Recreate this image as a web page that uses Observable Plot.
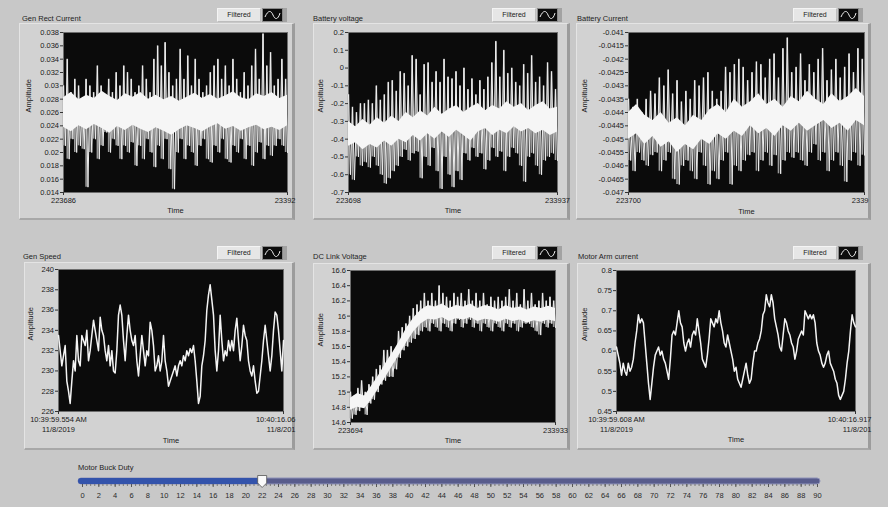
<!DOCTYPE html>
<html><head><meta charset="utf-8">
<script src="https://cdn.jsdelivr.net/npm/d3@7"></script>
<script src="https://cdn.jsdelivr.net/npm/@observablehq/plot@0.6"></script>
<style>
html,body{margin:0;padding:0;background:#c8c8c8;}
#root{position:relative;width:888px;height:507px;overflow:hidden;background:#c8c8c8;font-family:"Liberation Sans",Arial,sans-serif;}
.frame{position:absolute;background:#d2d2d2;box-sizing:border-box;border-top:1px solid #e4e4e4;border-left:1px solid #e4e4e4;border-right:3px solid #9c9c9c;border-bottom:2px solid #a8a8a8;}
.title{position:absolute;font-size:7.5px;color:#1e1e1e;white-space:nowrap;line-height:9px;}
.legend{position:absolute;height:14px;display:flex;box-sizing:border-box;border-right:4px solid #a2a2a2;}
.legend .lab{width:44px;height:14px;box-sizing:border-box;background:#e6e6e6;border:1px solid #f4f4f4;border-right-color:#bdbdbd;border-bottom-color:#bdbdbd;font-size:7px;line-height:12px;text-align:center;color:#222;}
.legend .ico{width:21px;height:14px;box-sizing:border-box;background:#0c0c0c;border:1px solid #8a8a8a;margin-left:1px;}
</style>
</head><body><div id="root"></div>
<script>
// ---------- data ----------
const genRectHi = [0.030,0.034,0.029,0.031,0.030,0.028,0.031,0.030,0.029,0.033,0.030,0.028,0.031,0.029,0.032,0.030,0.033,0.032,0.031,0.029,0.030,0.033,0.031,0.029,0.034,0.036,0.033,0.0365,0.032,0.030,0.031,0.0355,0.031,0.0345,0.030,0.034,0.031,0.029,0.030,0.032,0.033,0.034,0.031,0.033,0.030,0.034,0.031,0.029,0.032,0.030,0.033,0.0355,0.031,0.0378,0.033,0.035,0.030,0.031,0.034,0.031];
const genRectLo = [0.021,0.019,0.022,0.020,0.021,0.0205,0.0148,0.020,0.022,0.019,0.021,0.023,0.020,0.022,0.021,0.019,0.021,0.020,0.0215,0.018,0.021,0.019,0.022,0.020,0.0178,0.021,0.019,0.022,0.0175,0.0145,0.020,0.022,0.019,0.021,0.020,0.018,0.021,0.022,0.019,0.0185,0.021,0.020,0.022,0.019,0.0185,0.021,0.020,0.022,0.019,0.021,0.018,0.020,0.0215,0.019,0.021,0.0195,0.021,0.022,0.021,0.020];
const genRectCoreHi = [0.0282,0.0290,0.0279,0.0286,0.0281,0.0292,0.0284,0.0278,0.0288,0.0283,0.0290,0.0280,0.0286,0.0279,0.0284,0.0277,0.0283,0.0289,0.0281,0.0287,0.0280,0.0285,0.0291,0.0282,0.0279,0.0288,0.0284,0.0290,0.0281,0.0286];
const genRectCoreLo = [0.0238,0.0231,0.0240,0.0234,0.0242,0.0236,0.0229,0.0239,0.0233,0.0241,0.0235,0.0230,0.0237,0.0232,0.0226,0.0234,0.0240,0.0236,0.0231,0.0238,0.0243,0.0235,0.0239,0.0232,0.0237,0.0241,0.0234,0.0238,0.0233,0.0240];
const genRectTicks = [0.014,0.016,0.018,0.02,0.022,0.024,0.026,0.028,0.03,0.032,0.034,0.036,0.038];

const batVHi = [-0.15,-0.22,-0.25,-0.2,-0.2,-0.18,-0.2,-0.1,-0.18,-0.15,-0.08,-0.07,-0.13,-0.02,-0.03,-0.1,0.07,0.05,-0.15,0.02,0.03,-0.08,-0.02,-0.08,0.05,-0.05,-0.06,-0.02,-0.1,0.0,-0.12,-0.06,-0.15,-0.07,-0.12,-0.05,0.03,0.15,-0.05,0.1,-0.03,0.0,-0.08,-0.1,0.02,-0.03,0.07,-0.08,-0.05,-0.1,0.03,-0.02,-0.12];
const batVLo = [-0.6,-0.63,-0.5,-0.55,-0.53,-0.56,-0.5,-0.55,-0.6,-0.65,-0.62,-0.58,-0.55,-0.5,-0.46,-0.52,-0.48,-0.47,-0.62,-0.5,-0.55,-0.45,-0.58,-0.68,-0.5,-0.6,-0.67,-0.58,-0.63,-0.48,-0.52,-0.45,-0.5,-0.48,-0.57,-0.52,-0.45,-0.5,-0.47,-0.58,-0.5,-0.45,-0.48,-0.55,-0.64,-0.5,-0.48,-0.55,-0.6,-0.52,-0.5,-0.48,-0.52];
const batVCoreHi = [-0.30,-0.33,-0.29,-0.32,-0.28,-0.31,-0.27,-0.30,-0.25,-0.28,-0.24,-0.27,-0.22,-0.26,-0.23,-0.21,-0.25,-0.22,-0.20,-0.24,-0.21,-0.23,-0.19,-0.22,-0.20,-0.24,-0.21,-0.19,-0.23,-0.22];
const batVCoreLo = [-0.44,-0.42,-0.46,-0.43,-0.45,-0.41,-0.44,-0.40,-0.42,-0.38,-0.41,-0.37,-0.40,-0.36,-0.39,-0.35,-0.38,-0.41,-0.36,-0.34,-0.38,-0.35,-0.37,-0.33,-0.36,-0.34,-0.37,-0.35,-0.38,-0.36];
const batVTicks = [-0.7,-0.6,-0.5,-0.4,-0.3,-0.2,-0.1,0,0.1,0.2];

const batIHi = [-0.0435,-0.0438,-0.0435,-0.044,-0.0435,-0.0432,-0.0433,-0.0427,-0.043,-0.0424,-0.0433,-0.0428,-0.0436,-0.0432,-0.0435,-0.0428,-0.043,-0.0427,-0.0425,-0.0432,-0.0435,-0.0432,-0.0423,-0.0425,-0.0422,-0.042,-0.0423,-0.0428,-0.0425,-0.0421,-0.0422,-0.0427,-0.042,-0.0418,-0.0427,-0.0416,-0.0412,-0.0425,-0.0423,-0.0418,-0.0428,-0.0422,-0.0425,-0.042,-0.0416,-0.0428,-0.0424,-0.042,-0.0427,-0.0423,-0.0418,-0.0425,-0.0416,-0.042];
const batILo = [-0.0458,-0.0462,-0.0455,-0.0458,-0.046,-0.0456,-0.0455,-0.0462,-0.0458,-0.0455,-0.0465,-0.0467,-0.046,-0.0458,-0.0462,-0.0465,-0.0455,-0.046,-0.0467,-0.0462,-0.0465,-0.0458,-0.0455,-0.0467,-0.046,-0.0462,-0.0458,-0.0456,-0.0455,-0.0462,-0.0458,-0.0455,-0.046,-0.0456,-0.0463,-0.0458,-0.0455,-0.0457,-0.0455,-0.0458,-0.046,-0.0455,-0.0452,-0.0458,-0.0455,-0.0462,-0.0458,-0.0455,-0.046,-0.0466,-0.0458,-0.0455,-0.046,-0.0456];
const batICoreHi = [-0.0440,-0.0437,-0.0441,-0.0443,-0.0440,-0.0444,-0.0442,-0.0445,-0.0441,-0.0443,-0.0439,-0.0437,-0.0440,-0.0435,-0.0438,-0.0436,-0.0433,-0.0437,-0.0435,-0.0438,-0.0434,-0.0436,-0.0432,-0.0435,-0.0437,-0.0433,-0.0436,-0.0434,-0.0431,-0.0434];
const batICoreLo = [-0.0450,-0.0448,-0.0452,-0.0449,-0.0453,-0.0451,-0.0455,-0.0452,-0.0454,-0.0450,-0.0452,-0.0448,-0.0450,-0.0447,-0.0449,-0.0445,-0.0448,-0.0446,-0.0449,-0.0445,-0.0447,-0.0444,-0.0447,-0.0445,-0.0443,-0.0446,-0.0444,-0.0447,-0.0443,-0.0445];
const batITicks = [-0.047,-0.0465,-0.046,-0.0455,-0.045,-0.0445,-0.044,-0.0435,-0.043,-0.0425,-0.042,-0.0415,-0.041];

const genSpeed = [233.5,232,230.5,231.5,232.5,229,228,226.8,229,231,230,233.5,231,230.5,233.5,233,232.5,234,231,232,233.5,235,234,233,232,235.3,234,233.5,232,231,232.5,230.5,232,230,229.8,232,235.5,236.5,235.5,233,231,233.5,235.5,234,233,232.5,233.5,231,229.5,231.5,233.5,232,230.5,232,231.5,234.8,234,232.5,230,230.5,231.5,230,231,233.5,231,230,228.5,229,229.5,230,230.5,229.5,230.5,231,230.5,231.5,231,232,231.5,232.2,231.8,232.5,231,229,226.8,227.5,230.5,231.5,233,236,237.5,238.5,237,235.5,232,230,232,235.5,233,231,232,231.5,233,232,233,232,234,235.2,233,231,232.5,234.5,233.5,233,231,230,229.5,230.5,229,227.8,228,229.5,231,233,234.5,233,231.5,230,231.5,234,235.8,235.5,234,232,230,233];
const genSpeedTicks = [226,228,230,232,234,236,238,240];

const dcHi = [15.0,14.95,15.05,15.15,15.0,15.1,15.2,15.3,15.35,15.55,15.55,15.6,15.55,15.8,15.85,15.9,16.0,16.1,16.15,16.2,16.3,16.2,16.3,16.2,16.4,16.3,16.25,16.2,16.3,16.25,16.3,16.2,16.35,16.2,16.3,16.2,16.3,16.15,16.25,16.2,16.25,16.2,16.25,16.35,16.2,16.3,16.15,16.35,16.2,16.3,16.15,16.2,16.3,16.2,16.25,16.2];
const dcLo = [14.65,14.7,14.75,14.8,14.7,14.85,14.9,15.0,15.1,15.15,15.2,15.2,15.3,15.45,15.55,15.6,15.65,15.7,15.75,15.8,15.85,15.8,15.9,15.85,15.8,15.9,15.85,15.8,15.9,15.95,15.85,15.9,15.95,15.85,15.9,15.8,15.9,15.85,15.8,15.9,15.85,15.8,15.9,15.85,15.9,15.8,15.85,15.9,15.9,15.85,15.8,15.75,15.9,15.85,15.9,15.85];
const dcCoreHi = [14.92,14.98,14.95,15.08,15.22,15.38,15.52,15.68,15.85,15.98,16.08,16.14,16.12,16.16,16.1,16.14,16.12,16.16,16.1,16.14,16.12,16.08,16.14,16.1,16.12,16.08,16.12,16.1,16.13,16.1];
const dcCoreLo = [14.76,14.8,14.78,14.9,15.05,15.2,15.35,15.5,15.66,15.8,15.9,15.96,15.95,15.98,15.93,15.97,15.95,15.98,15.93,15.96,15.95,15.92,15.96,15.93,15.95,15.91,15.94,15.92,15.95,15.93];
const dcTicks = [14.6,14.8,15,15.2,15.4,15.6,15.8,16,16.2,16.4,16.6];

const motorArm = [0.61,0.59,0.57,0.54,0.57,0.55,0.54,0.57,0.55,0.56,0.58,0.62,0.65,0.69,0.67,0.68,0.67,0.62,0.57,0.52,0.48,0.52,0.56,0.59,0.6,0.61,0.59,0.6,0.58,0.57,0.55,0.53,0.58,0.64,0.65,0.64,0.67,0.7,0.67,0.66,0.62,0.6,0.62,0.63,0.61,0.64,0.65,0.64,0.68,0.65,0.62,0.58,0.57,0.56,0.59,0.63,0.68,0.67,0.66,0.68,0.67,0.7,0.67,0.65,0.62,0.61,0.64,0.62,0.6,0.58,0.55,0.56,0.53,0.52,0.51,0.53,0.55,0.57,0.54,0.52,0.53,0.57,0.6,0.6,0.62,0.63,0.65,0.69,0.7,0.74,0.72,0.71,0.74,0.72,0.68,0.66,0.64,0.61,0.6,0.64,0.68,0.67,0.65,0.64,0.62,0.61,0.58,0.6,0.63,0.64,0.65,0.64,0.7,0.69,0.68,0.69,0.68,0.69,0.67,0.62,0.6,0.59,0.57,0.56,0.57,0.59,0.6,0.57,0.56,0.55,0.53,0.52,0.49,0.48,0.49,0.5,0.53,0.57,0.6,0.65,0.69,0.67,0.66];
const motorArmTicks = [0.45,0.5,0.55,0.6,0.65,0.7,0.75,0.8];

const titles = ["Gen Rect Current","Battery voltage","Battery Current","Gen Speed","DC Link Voltage","Motor Arm current"];
const xStartLabels = ["223686","223698","223700","10:39:59.554 AM\n11/8/2019","223694","10:39:59.608 AM\n11/8/2019"];
const xEndLabels = ["23392","233937","2339","10:40:16.06\n11/8/201","233933","10:40:16.917\n11/8/201"];
const legendText = "Filtered";
const sliderLabel = "Motor Buck Duty";
const sliderDomain = [0, 90];
const sliderTicks = [0,2,4,6,8,10,12,14,16,18,20,22,24,26,28,30,32,34,36,38,40,42,44,46,48,50,52,54,56,58,60,62,64,66,68,70,72,74,76,78,80,82,84,86,88,90];
const sliderValue = 22;

// ---------- layout ----------
const root = document.getElementById("root");
const fmt = d => String(+d.toFixed(6));
const FONT = '"Liberation Sans", Arial, sans-serif';

const panels = [
  {kind:"noise", hi:genRectHi, lo:genRectLo, cHi:genRectCoreHi, cLo:genRectCoreLo, ticks:genRectTicks,
   frame:[19,23,295,220], plot:[63,32,287,192], yLab:9, timeDy:20, endDx:8, endAnchor:"end", legend:[217,8], title:[22,14]},
  {kind:"noise", hi:batVHi, lo:batVLo, cHi:batVCoreHi, cLo:batVCoreLo, ticks:batVTicks,
   frame:[313,23,570,220], plot:[348,32,557,192], yLab:7, timeDy:20, endDx:0, endAnchor:"middle", legend:[492,8], title:[313,14]},
  {kind:"noise", hi:batIHi, lo:batILo, cHi:batICoreHi, cLo:batICoreLo, ticks:batITicks,
   frame:[576,23,871,220], plot:[628,32,864,192], yLab:8, timeDy:21, endDx:4, endAnchor:"end", legend:[793,8], title:[577,14]},
  {kind:"line", vals:genSpeed, ticks:genSpeedTicks,
   frame:[24,262,295,450], plot:[58,269,283,411], yLab:6, timeDy:31, endDx:12, endAnchor:"end", legend:[217,246], title:[23,252]},
  {kind:"noise", hi:dcHi, lo:dcLo, cHi:dcCoreHi, cLo:dcCoreLo, ticks:dcTicks,
   frame:[313,263,570,450], plot:[350,270,555,422], yLab:7, timeDy:20, endDx:0, endAnchor:"middle", legend:[492,246], title:[313,252]},
  {kind:"line", vals:motorArm, ticks:motorArmTicks,
   frame:[577,263,871,450], plot:[616,270,855,411], yLab:7, timeDy:30, endDx:16, endAnchor:"end", legend:[793,246], title:[578,252]}
];

function addDiv(cls, css, html){
  const d = document.createElement("div");
  d.className = cls; Object.assign(d.style, css); if (html!=null) d.innerHTML = html;
  root.appendChild(d); return d;
}

panels.forEach((p, k) => {
  const [x0,y0,x1,y1] = p.frame, [px0,py0,px1,py1] = p.plot;
  addDiv("frame", {left:x0+"px", top:y0+"px", width:(x1-x0)+"px", height:(y1-y0)+"px"});
  addDiv("title", {left:p.title[0]+"px", top:p.title[1]+"px"}, titles[k]);
  addDiv("legend", {left:p.legend[0]+"px", top:p.legend[1]+"px"},
    `<div class="lab">${legendText}</div><div class="ico"><svg width="19" height="12" style="display:block"><path d="M2,8 C5,1 8,1 10,6 S15,11 17,4" stroke="#eee" stroke-width="1" fill="none"/></svg></div>`);

  const W = x1-x0, H = y1-y0;
  const mL = px0-x0, mT = py0-y0, mR = x1-px1, mB = y1-py1;
  let xMax, dataMarks;
  if (p.kind === "noise") {
    const n = p.hi.length;
    xMax = n - 0.5;
    const zig = p.hi.flatMap((h,i) => [{x:i, y:h}, {x:i+0.5, y:p.lo[i]}]);
    const m = p.cHi.length;
    const core = p.cHi.map((h,j) => ({x: j*xMax/(m-1), y1: p.cLo[j], y2: h}));
    dataMarks = [
      Plot.ruleX(p.hi.map((h,i)=>({x:i, y1:p.lo[i], y2:h})), {x:"x", y1:"y1", y2:"y2", stroke:"#9a9a9a", strokeWidth:1.6}),
      Plot.line(zig, {x:"x", y:"y", stroke:"#eeeeee", strokeWidth:1}),
      Plot.areaY(core, {x:"x", y1:"y1", y2:"y2", fill:"#f6f6f6"})
    ];
  } else {
    xMax = p.vals.length - 1;
    dataMarks = [
      Plot.line(p.vals.map((v,i)=>({x:i,y:v})), {x:"x", y:"y", stroke:"#f4f4f4", strokeWidth:1.5, strokeLinejoin:"round"})
    ];
  }
  const svg = Plot.plot({
    width: W, height: H, marginLeft: mL, marginRight: mR, marginTop: mT, marginBottom: mB,
    style: {background:"transparent", fontFamily: FONT, fontSize:"7.5px", color:"#1a1a1a", overflow:"visible"},
    x: {domain:[0, xMax], axis:null},
    y: {domain:[p.ticks[0], p.ticks[p.ticks.length-1]], axis:null},
    marks: [
      Plot.frame({fill:"#0b0b0b", stroke:"#6e6e6e"}),
      ...dataMarks,
      Plot.axisY({ticks:p.ticks, tickFormat:fmt, tickSize:3, tickPadding:1.5, label:null, stroke:"#333"}),
      Plot.axisX({ticks:[0, xMax], tickSize:3, tickFormat:()=>"", label:null, stroke:"#333"}),
      Plot.text([{x:0, t:xStartLabels[k]}], {x:"x", text:"t", frameAnchor:"bottom", lineAnchor:"top", dy:4, lineHeight:1.3, fill:"#1a1a1a"}),
      Plot.text([{x:xMax, t:xEndLabels[k]}], {x:"x", text:"t", frameAnchor:"bottom", lineAnchor:"top", dy:4, dx:p.endDx, textAnchor:p.endAnchor, lineHeight:1.3, fill:"#1a1a1a"}),
      Plot.text(["Amplitude"], {text:d=>d, frameAnchor:"left", rotate:-90, dx:-(mL - p.yLab), fill:"#1a1a1a"}),
      Plot.text(["Time"], {text:d=>d, frameAnchor:"bottom", dy:p.timeDy, fill:"#1a1a1a"})
    ]
  });
  Object.assign(svg.style, {position:"absolute", left:x0+"px", top:y0+"px"});
  root.appendChild(svg);
});

// ---------- slider ----------
addDiv("title", {left:"78px", top:"463px"}, sliderLabel);
const thumb = {draw(ctx, size){ const r = Math.sqrt(size/Math.PI)/6;
  ctx.moveTo(-4.5*r,-6*r); ctx.lineTo(4.5*r,-6*r); ctx.lineTo(4.5*r,1.5*r); ctx.lineTo(0,6*r); ctx.lineTo(-4.5*r,1.5*r); ctx.closePath(); }};
const slider = Plot.plot({
  width: 888, height: 37, marginLeft: 82, marginRight: 71, marginTop: 8, marginBottom: 23,
  style: {background:"transparent", fontFamily: FONT, fontSize:"7.5px", color:"#2a2a2a", overflow:"visible"},
  x: {domain: sliderDomain, axis:null},
  marks: [
    Plot.barX([{a:sliderDomain[0], b:sliderDomain[1]}], {x1:"a", x2:"b", fill:"#585c8c", stroke:"#8e92b8", rx:3, insetLeft:-4, insetRight:-3}),
    Plot.barX([{a:sliderDomain[0], b:sliderValue}], {x1:"a", x2:"b", fill:"#3353ab", rx:3, insetLeft:-4}),
    Plot.axisX({ticks: d3.range(sliderDomain[0], sliderDomain[1]+0.01, 0.5), tickSize:2, tickFormat:()=>"", label:null, stroke:"#777"}),
    Plot.axisX({ticks: sliderTicks, tickSize:3, tickPadding:5, tickFormat:d=>String(d), label:null, stroke:"#555"}),
    Plot.dot([sliderValue], {x:d=>d, symbol:thumb, r:6, fill:"#fafafa", stroke:"#555", strokeWidth:0.8})
  ]
});
Object.assign(slider.style, {position:"absolute", left:"0px", top:"470px"});
root.appendChild(slider);
</script>
</body></html>
